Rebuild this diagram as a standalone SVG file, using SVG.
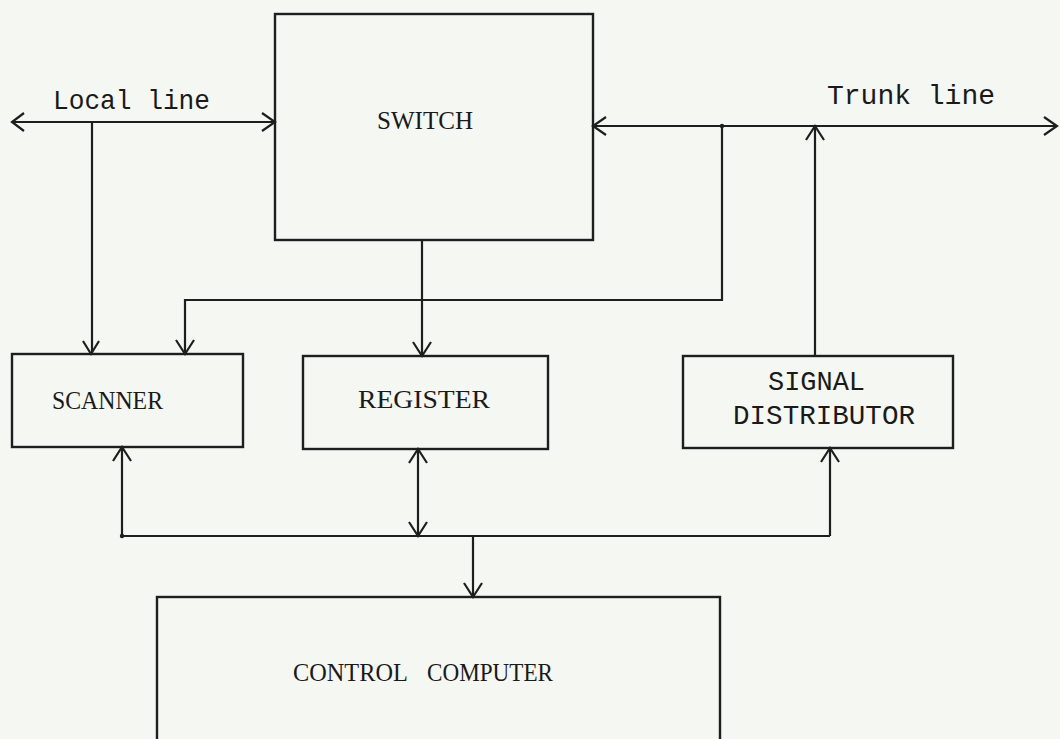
<svg xmlns="http://www.w3.org/2000/svg" width="1060" height="739" viewBox="0 0 1060 739">
<style>
.box{fill:none;stroke:#1e1e1e;stroke-width:2.4}
.ln{fill:none;stroke:#1e1e1e;stroke-width:2.2}
.ah{fill:none;stroke:#1e1e1e;stroke-width:2.2;stroke-linejoin:miter}
.serif{font-family:"Liberation Serif","Times New Roman",serif;font-size:26px;fill:#1a1a1a}
.mono{font-family:"Liberation Mono","Courier New",monospace;font-size:28px;fill:#1a1a1a}
</style>
<rect width="1060" height="739" fill="#f4f7f2"/>
<g id="connectors">
  <path class="ln" d="M12,122 H275"/>
  <polyline class="ah" points="24,113 12,122 24,131"/>
  <polyline class="ah" points="262,113 275,122 262,131"/>
  <path class="ln" d="M92,122 V354"/>
  <polyline class="ah" points="83,341 91,354 99,341"/>
  <path class="ln" d="M593,126 H1057"/>
  <polyline class="ah" points="606,117 593,126 606,135"/>
  <polyline class="ah" points="1044,117 1057,126 1044,135"/>
  <circle cx="722" cy="126" r="2.2" fill="#1e1e1e"/>
  <path class="ln" d="M722,126 V300 H185 V354"/>
  <polyline class="ah" points="176,340 185,354 194,340"/>
  <path class="ln" d="M815,356 V126"/>
  <polyline class="ah" points="806,140 815,126 824,140"/>
  <path class="ln" d="M422,240 V356"/>
  <polyline class="ah" points="413,342 422,356 431,342"/>
  <path class="ln" d="M418,449 V536"/>
  <polyline class="ah" points="409,463 418,449 427,463"/>
  <polyline class="ah" points="409,522 418,536 427,522"/>
  <path class="ln" d="M122,536 H830"/>
  <circle cx="122" cy="536" r="2.2" fill="#1e1e1e"/>
  <path class="ln" d="M122,536 V447"/>
  <polyline class="ah" points="113,461 122,447 131,461"/>
  <path class="ln" d="M830,536 V448"/>
  <polyline class="ah" points="821,462 830,448 839,462"/>
  <path class="ln" d="M473,536 V597"/>
  <polyline class="ah" points="464,583 473,597 482,583"/>
</g>
<g id="labels">
  <text class="mono" x="53" y="109" textLength="157" lengthAdjust="spacingAndGlyphs">Local line</text>
  <text class="mono" x="827" y="104" textLength="168" lengthAdjust="spacingAndGlyphs">Trunk line</text>
</g>
<g id="switch">
  <rect class="box" x="275" y="14" width="318" height="226"/>
  <text class="serif" x="377" y="129" font-size="28" textLength="96" lengthAdjust="spacingAndGlyphs">SWITCH</text>
</g>
<g id="scanner">
  <rect class="box" x="12" y="354" width="231" height="93"/>
  <text class="serif" x="52" y="409" textLength="111" lengthAdjust="spacingAndGlyphs">SCANNER</text>
</g>
<g id="register">
  <rect class="box" x="303" y="356" width="245" height="93"/>
  <text class="serif" x="358" y="408" textLength="132" lengthAdjust="spacingAndGlyphs">REGISTER</text>
</g>
<g id="signal-distributor">
  <rect class="box" x="683" y="356" width="270" height="92"/>
  <text class="mono" x="768" y="390" textLength="97" lengthAdjust="spacingAndGlyphs">SIGNAL</text>
  <text class="mono" x="733" y="424" textLength="182" lengthAdjust="spacingAndGlyphs">DISTRIBUTOR</text>
</g>
<g id="control-computer">
  <rect class="box" x="157" y="597" width="563" height="150"/>
  <text class="serif" x="293" y="681"><tspan x="293" textLength="114" lengthAdjust="spacingAndGlyphs">CONTROL</tspan> <tspan x="427" textLength="126" lengthAdjust="spacingAndGlyphs">COMPUTER</tspan></text>
</g>
</svg>
